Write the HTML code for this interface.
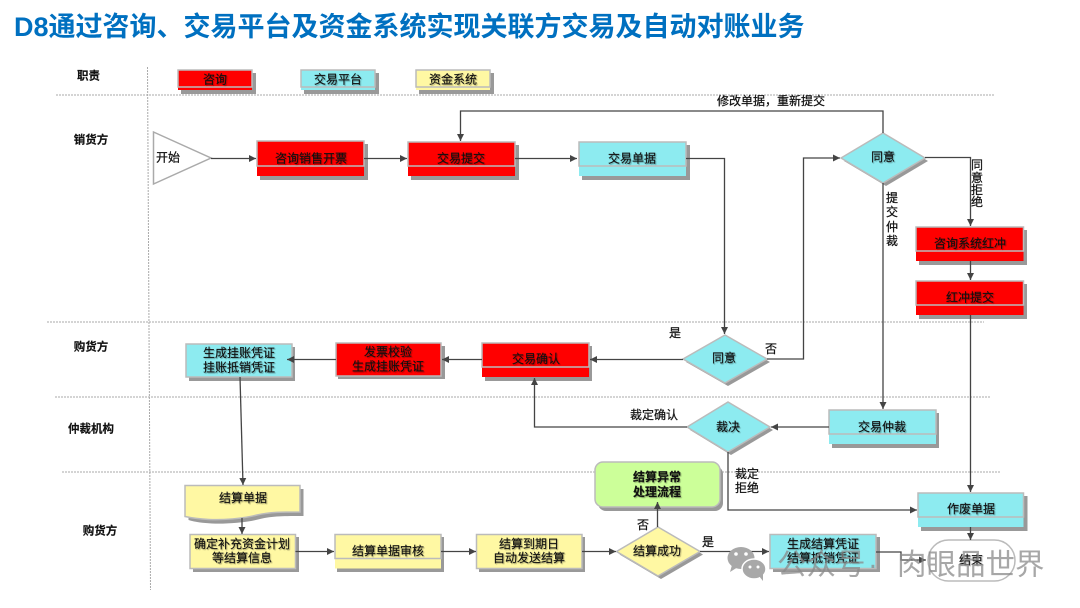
<!DOCTYPE html>
<html><head><meta charset="utf-8">
<style>
html,body{margin:0;padding:0;background:#fff;width:1080px;height:608px;overflow:hidden}
svg{display:block;filter:blur(0.35px)}
text{font-family:"Liberation Sans","Noto Sans CJK SC",sans-serif;font-size:12px;fill:#111;stroke:#111;stroke-width:.15;text-anchor:middle;dominant-baseline:central;text-shadow:1px 1px 1px rgba(0,0,0,.28)}
.t{font-size:27px;font-weight:bold;fill:#0070C0;stroke:none;text-anchor:start;text-shadow:none}
.h{font-weight:bold;font-size:11.5px;text-shadow:none}
.l{text-shadow:none;stroke-width:.25}
.w{font-size:29.5px;fill:#8a8a8a;stroke:none;text-anchor:start;text-shadow:none;opacity:.75;font-weight:normal}
.lane{stroke:#aaa;stroke-width:1;stroke-dasharray:2 1;fill:none}
.c{stroke:#444;stroke-width:1.3;fill:none}
.a{marker-end:url(#ar)}
.s{fill:#999}
.r{fill:#f00}.b{fill:#8DEBF0}.y{fill:#FFF8A3}.g{fill:#CCFF99}
.e{stroke:#bbb;stroke-width:1.5}
.in{stroke:#bbb;stroke-width:1.5;fill:none}
</style></head><body>
<svg width="1080" height="608" viewBox="0 0 1080 608" xmlns="http://www.w3.org/2000/svg">
<defs>
<marker id="ar" markerUnits="userSpaceOnUse" markerWidth="8" markerHeight="8" refX="7" refY="4" orient="auto"><path d="M0,0.5 L7,4 L0,7.5 Z" fill="#444"/></marker>
</defs>
<rect width="1080" height="608" fill="#fff"/>
<text class="t" x="14" y="27">D8通过咨询、交易平台及资金系统实现关联方交易及自动对账业务</text>

<!-- lanes -->
<path class="lane" d="M147.5,67 L150.5,590"/>
<path class="lane" d="M56,95 H994"/>
<path class="lane" d="M47,322 H984"/>
<path class="lane" d="M55,397 H991"/>
<path class="lane" d="M62,472 H1000"/>

<text class="h" x="88.5" y="76.500">职责</text>
<text class="h" x="91" y="140.500">销货方</text>
<text class="h" x="91" y="347.500">购货方</text>
<text class="h" x="91" y="429.500">仲裁机构</text>
<text class="h" x="100" y="531.500">购货方</text>

<!-- legend -->
<rect class="s" x="181" y="73" width="75" height="21"/>
<rect class="r" x="178" y="70" width="74" height="20"/><rect class="in" x="178" y="70" width="74" height="17"/>
<text x="215" y="79.500">咨询</text>
<rect class="s" x="304" y="73" width="75" height="21"/>
<rect class="b" x="301" y="70" width="74" height="20"/><rect class="in" x="301" y="70" width="74" height="17"/>
<text x="338" y="79.500">交易平台</text>
<rect class="s" x="419" y="73" width="75" height="21"/>
<rect class="y" x="416" y="70" width="74" height="20"/><rect class="in" x="416" y="70" width="74" height="17"/>
<text x="453" y="79.500">资金系统</text>

<!-- start -->
<polygon points="153.5,132 211,158 153.5,184" fill="#fff" stroke="#aaa" stroke-width="1.5"/>
<text class="l" x="168" y="157.500">开始</text>

<!-- boxes with band -->
<rect class="s" x="260" y="144" width="108" height="36"/>
<rect class="r" x="257" y="141" width="107" height="35"/><rect class="in" x="257" y="141" width="107" height="25"/>
<text x="311" y="158.500">咨询销售开票</text>

<rect class="s" x="411" y="145" width="108" height="35"/>
<rect class="r" x="408" y="142" width="107" height="34"/><rect class="in" x="408" y="142" width="107" height="24"/>
<text x="461" y="158.500">交易提交</text>

<rect class="s" x="582" y="145" width="108" height="35"/>
<rect class="b" x="579" y="142" width="107" height="34"/><rect class="in" x="579" y="142" width="107" height="24"/>
<text x="632" y="158.500">交易单据</text>

<rect class="s" x="919" y="230" width="108" height="35"/>
<rect class="r" x="916" y="227" width="107.500" height="34"/><rect class="in" x="916" y="227" width="107.500" height="24"/>
<text x="970" y="243.500">咨询系统红冲</text>

<rect class="s" x="919" y="284" width="108" height="35"/>
<rect class="r" x="916" y="281" width="107.500" height="34"/><rect class="in" x="916" y="281" width="107.500" height="24"/>
<text x="970" y="297.500">红冲提交</text>

<rect class="s" x="189" y="347" width="106" height="34"/>
<rect class="b e" x="186" y="344" width="106" height="33"/>
<text x="239" y="353">生成挂账凭证</text><text x="239" y="367.500">挂账抵销凭证</text>

<rect class="s" x="338" y="346" width="107" height="33"/>
<rect class="r e" x="336" y="343" width="105" height="33"/>
<text x="388" y="352">发票校验</text><text x="388" y="366.500">生成挂账凭证</text>

<rect class="s" x="485" y="346" width="107" height="35"/>
<rect class="r" x="482" y="343" width="107" height="34"/><rect class="in" x="482" y="343" width="107" height="24"/>
<text x="536" y="359">交易确认</text>

<rect class="s" x="832" y="413" width="107" height="35"/>
<rect class="b" x="829" y="410" width="107" height="34"/><rect class="in" x="829" y="410" width="107" height="24"/>
<text x="882" y="427">交易仲裁</text>

<rect class="s" x="921" y="496" width="106.500" height="35"/>
<rect class="b" x="918" y="493" width="105.500" height="34"/><rect class="in" x="918" y="493" width="105.500" height="24"/>
<text x="971" y="509">作废单据</text>

<!-- doc -->
<path class="s" d="M188.500,489 H303.500 V516 C285,516 272,516 260,519 C245,523 225,524 212,523.500 C203,523 195,522 188.500,520 Z"/>
<path class="y e" d="M185,485.500 H300 V512 C282,512 270,512 257,515 C242,519 222,520 209,519.500 C200,519 192,518 185,516.500 Z"/>
<text x="243" y="498">结算单据</text>

<rect class="s" x="193" y="537" width="106" height="35"/>
<rect class="y e" x="190" y="534.500" width="105.500" height="34"/>
<text x="242" y="544">确定补充资金计划</text><text x="242" y="558">等结算信息</text>

<rect class="s" x="337" y="537" width="107" height="35"/>
<rect class="y" x="335" y="534.500" width="106" height="34"/><rect class="in" x="335" y="534.500" width="106" height="24"/>
<text x="388" y="551">结算单据审核</text>

<rect class="s" x="479" y="537" width="106" height="35"/>
<rect class="y e" x="476.500" y="534.500" width="105.500" height="34"/>
<text x="529" y="544">结算到期日</text><text x="529" y="558">自动发送结算</text>

<rect class="s" x="598" y="466" width="125" height="45" rx="8"/>
<rect class="g e" x="595" y="462" width="125" height="45" rx="8"/>
<text x="657" y="477" style="font-weight:bold">结算异常</text><text x="657" y="492" style="font-weight:bold">处理流程</text>

<!-- diamonds -->
<polygon class="s" points="844,161 886,136 928,161 886,186"/>
<polygon class="b e" points="841,158 883,133 925,158 883,183"/>
<text x="883" y="157">同意</text>
<polygon class="s" points="686,362 728,338 770,362 728,386"/>
<polygon class="b e" points="683,359 725,335 767,359 725,383"/>
<text x="724" y="358">同意</text>
<polygon class="s" points="690,430 731,405 773,430 731,455"/>
<polygon class="b e" points="687,427 728,402 770,427 728,452"/>
<text x="728" y="427">裁决</text>
<polygon class="s" points="619.500,554.500 661,530 703,554.500 661,579"/>
<polygon class="y e" points="616.500,551.500 658,527 700,551.500 658,576"/>
<text x="657" y="551">结算成功</text>

<rect class="s" x="773" y="537" width="107" height="35"/>
<rect class="b e" x="770" y="534.500" width="106" height="34"/>
<text x="823" y="544">生成结算凭证</text><text x="823" y="558">结算抵销凭证</text>
<rect x="928" y="540" width="87" height="41" rx="20.500" fill="none" stroke="#bbb" stroke-width="1.5"/>
<text x="971" y="560">结束</text>

<!-- connectors -->
<path class="c a" d="M211,158.500 H256"/>
<path class="c a" d="M364,158.500 H407"/>
<path class="c a" d="M515,158.500 H577"/>
<path class="c a" d="M686,158.500 H724.500 V334"/>
<path class="c a" d="M883,133 V111 H460.500 V141"/>
<path class="c a" d="M767,359 H803.500 V158 H840"/>
<path class="c a" d="M925,157.500 H970.500 V226"/>
<path class="c a" d="M970.500,261 V280"/>
<path class="c a" d="M970.500,315 V492"/>
<path class="c a" d="M883,183 V409"/>
<path class="c a" d="M683,359.500 H590"/>
<path class="c a" d="M482,359.500 H442"/>
<path class="c a" d="M336,359.500 H287"/>
<path class="c a" d="M240,377 L243,485"/>
<path class="c a" d="M829,427 H771"/>
<path class="c a" d="M687,427 H534.500 V378"/>
<path class="c a" d="M728,452 V510 H917"/>
<path class="c a" d="M242,518 V534"/>
<path class="c a" d="M295.500,551.500 H334"/>
<path class="c a" d="M441,551.500 H476"/>
<path class="c a" d="M582,551.500 H616"/>
<path class="c a" d="M700,551.500 H769"/>
<path class="c a" d="M657.500,527 V502"/>
<path class="c a" d="M876,552 H901 V560 H926"/>
<path class="c a" d="M970.500,527 V540"/>

<!-- labels -->
<text class="l" x="771" y="101">修改单据，重新提交</text>
<text class="l" x="977" y="165">同</text><text class="l" x="977" y="178">意</text><text class="l" x="977" y="190">拒</text><text class="l" x="977" y="202">绝</text>
<text class="l" x="892" y="198">提</text><text class="l" x="892" y="212">交</text><text class="l" x="892" y="227">仲</text><text class="l" x="892" y="241">裁</text>
<text class="l" x="675" y="333">是</text>
<text class="l" x="771" y="349">否</text>
<text class="l" x="654" y="415">裁定确认</text>
<text class="l" x="747" y="474">裁定</text><text class="l" x="747" y="488">拒绝</text>
<text class="l" x="643" y="525">否</text>
<text class="l" x="708" y="542">是</text>

<!-- wechat icon -->
<g fill="#a8a8a8">
<ellipse cx="741" cy="558" rx="13.500" ry="11"/><path d="M732,565 L730,572 L738,567 Z"/>
<ellipse cx="754" cy="569" rx="12" ry="10" stroke="#fff" stroke-width="1.500"/><path d="M759,576 L763,581 L763,573 Z"/>
</g>
<g fill="#fff"><circle cx="736" cy="554" r="1.800"/><circle cx="746" cy="554" r="1.800"/><circle cx="750" cy="567" r="1.500"/><circle cx="758" cy="567" r="1.500"/></g>

<!-- watermark on top -->
<text class="w" x="777" y="565">公众号</text>
<text class="w" x="868" y="565">·</text>
<text class="w" x="897" y="565">肉眼品世界</text>
</svg>
</body></html>
